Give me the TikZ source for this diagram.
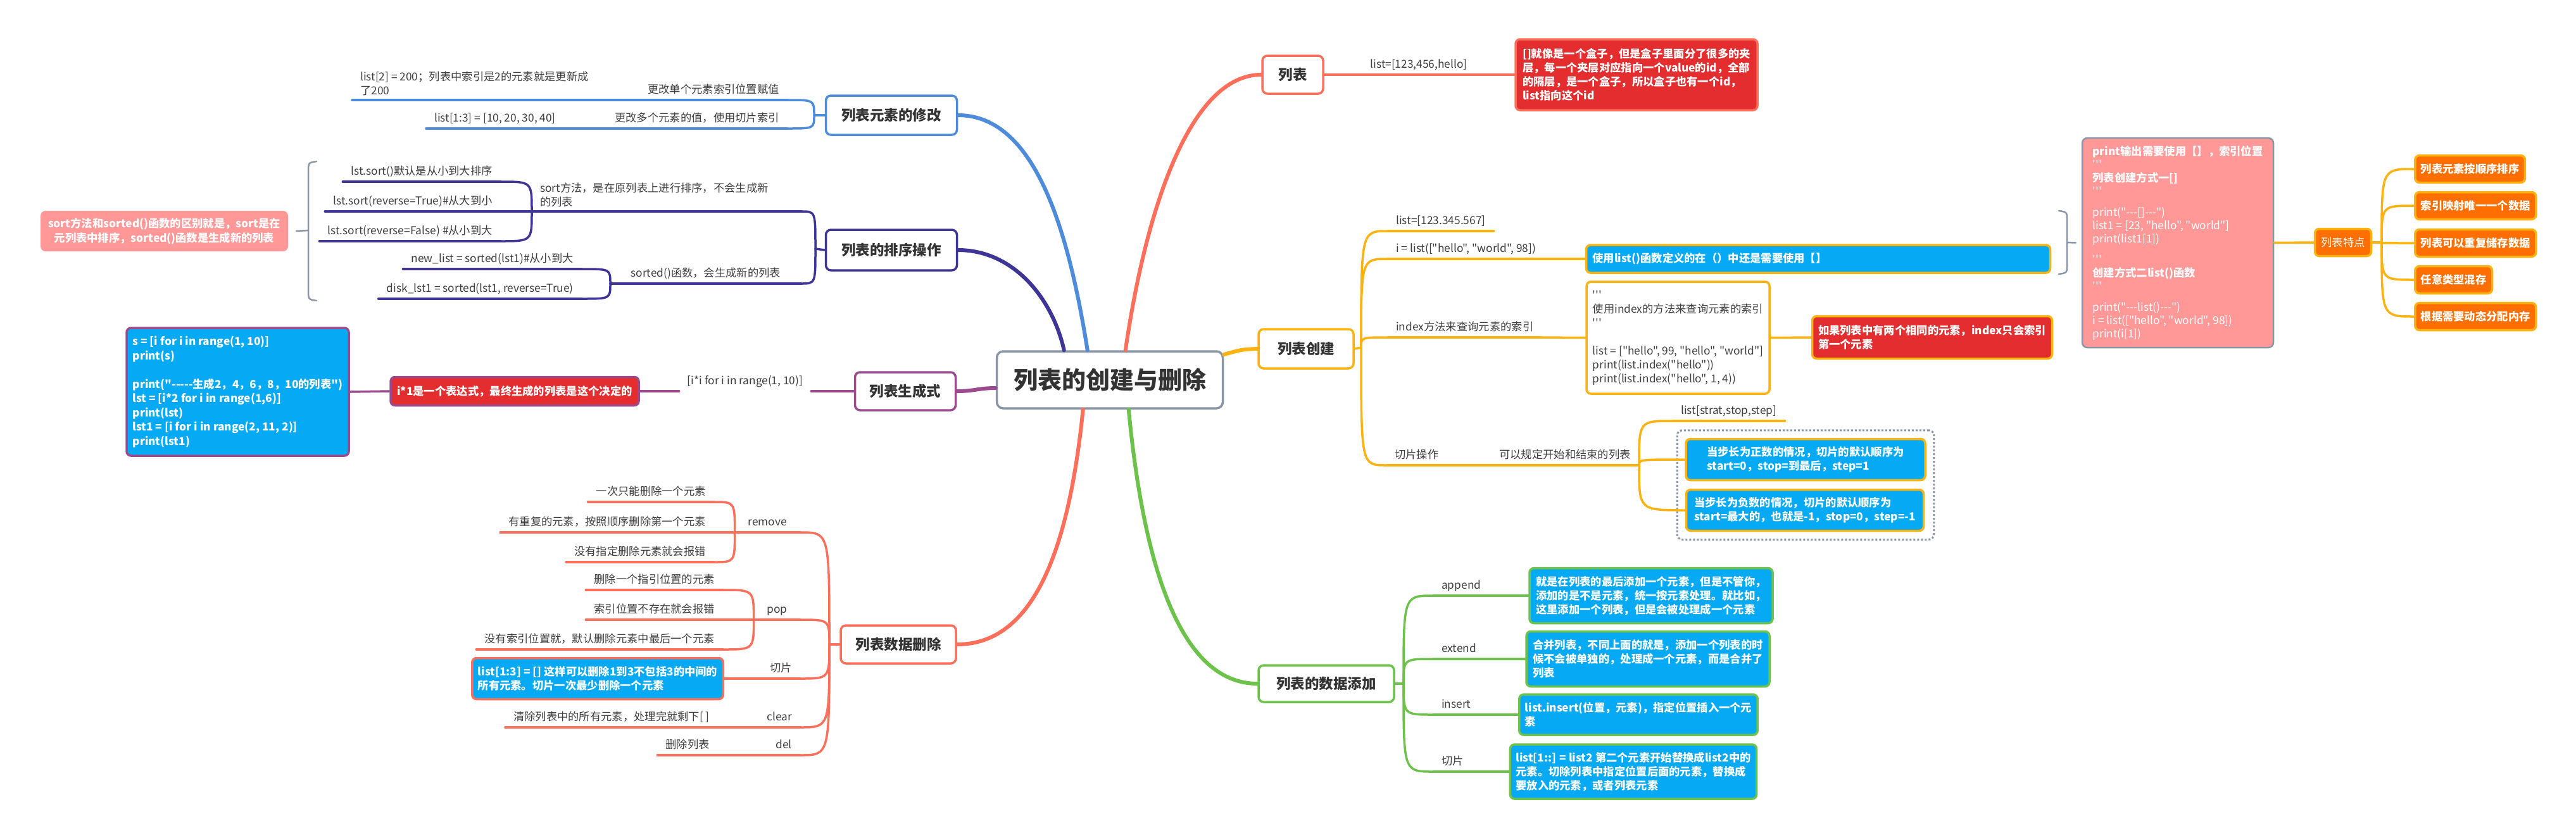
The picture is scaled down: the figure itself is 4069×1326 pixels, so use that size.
\documentclass[tikz,border=0pt]{standalone}
\usepackage{fontspec}
\setmainfont{Noto Sans CJK SC}[Ligatures=TeXOff]
\usetikzlibrary{fit}
\definecolor{cB}{HTML}{4E8CDB}
\definecolor{cI}{HTML}{3F3597}
\definecolor{cP}{HTML}{9B4A8D}
\definecolor{cR}{HTML}{FD6F5B}
\definecolor{cY}{HTML}{FDB30F}
\definecolor{cG}{HTML}{6CC24A}
\definecolor{cgray}{HTML}{8A95A8}
\definecolor{fB}{HTML}{06A9F4}
\definecolor{fR}{HTML}{E32D2E}
\definecolor{fP}{HTML}{FF9897}
\definecolor{fO}{HTML}{FF6E00}
\definecolor{txt}{HTML}{3D3D3D}
\definecolor{dtxt}{HTML}{333333}

\begin{document}
\begin{tikzpicture}[x=1pt, y=-1pt,
  every node/.style={font=\fontsize{17.3}{22}\selectfont, text=txt},
  root/.style={draw=cgray, line width=3.5pt, rounded corners=10pt, fill=white,
    font=\fontsize{38}{44}\selectfont\bfseries, text=dtxt, minimum width=357pt, minimum height=90pt},
  topic/.style={draw=#1, line width=3.5pt, rounded corners=8pt, fill=white,
    font=\fontsize{22.5}{26}\selectfont\bfseries, text=dtxt},
  lbl/.style={inner xsep=13pt, inner ysep=7pt, text height=13pt, text depth=3pt},
  mlbl/.style={inner xsep=13pt, inner ysep=7pt, align=left},
  note/.style={draw=#1, line width=3.5pt, rounded corners=7pt, text=white, align=left,
    font=\fontsize{17.3}{22}\selectfont\bfseries, inner xsep=9pt, inner ysep=6pt},
  obox/.style={note=cY, fill=fO, minimum height=43pt, anchor=west},
  lnk/.style={draw=#1, line width=3.5pt, line cap=round},
  trunk/.style={draw=#1, line width=6pt, line cap=round},
  sumln/.style={draw=cgray, line width=2.5pt, line cap=round},
  dotbox/.style={draw=cgray, line width=3pt, dash pattern=on 3pt off 3pt, rounded corners=8pt, inner sep=12pt}
]
\fill[white] (0,0) rectangle (4069,1326);
\useasboundingbox (0,0) rectangle (4069,1326);

% centre
\node[root] (root) at (1753,600) {列表的创建与删除};

% ---- left: 修改
\node[topic=cB, minimum width=207pt, minimum height=62pt] (xg) at (1408,182) {列表元素的修改};
\coordinate (xgj) at (1286,182);
\node[lbl, anchor=south east] (xg1) at (1244,158) {更改单个元素索引位置赋值};
\node[mlbl, anchor=south west] (xg1a) at (556,158) {list[2] = 200；列表中索引是2的元素就是更新成\\了200};
\node[lbl, anchor=south east] (xg2) at (1244,203) {更改多个元素的值，使用切片索引};
\node[lbl, anchor=south west] (xg2a) at (673,203) {list[1:3] = [10, 20, 30, 40]};

% ---- left: 排序
\node[topic=cI, minimum width=207pt, minimum height=64pt] (px) at (1408,395) {列表的排序操作};
\coordinate (pxj) at (1288,393);
\node[mlbl, anchor=south west, text width=400pt] (px1) at (840,334) {sort方法，是在原列表上进行排序，不会生成新\\的列表};
\node[lbl, anchor=south east] (px1a) at (791,287) {lst.sort()默认是从小到大排序};
\node[lbl, anchor=south east] (px1b) at (791,334) {lst.sort(reverse=True)\#从大到小};
\node[lbl, anchor=south east] (px1c) at (791,381) {lst.sort(reverse=False) \#从小到大};
\node[lbl, anchor=south west, minimum width=301pt] (px2) at (964,448) {sorted()函数，会生成新的列表};
\node[lbl, anchor=south east] (px2a) at (919,425) {new\_list = sorted(lst1)\#从小到大};
\node[lbl, anchor=south east] (px2b) at (919,472) {disk\_lst1 = sorted(lst1, reverse=True)};
\node[fill=fP, rounded corners=8pt, text=white, align=center, font=\fontsize{17.3}{23}\selectfont\bfseries,
  minimum width=391pt, minimum height=64pt] (pxn) at (259.5,365) {sort方法和sorted()函数的区别就是，sort是在\\元列表中排序，sorted()函数是生成新的列表};
\coordinate (pxs) at (487,364);

% ---- left: 生成式
\node[topic=cP, minimum width=159pt, minimum height=60pt] (sc) at (1430,618) {列表生成式};
\node[lbl, anchor=south] (sc1) at (1177,618) {[i*i for i in range(1, 10)]};
\node[note=cP, fill=fR, minimum width=392pt, minimum height=45pt] (sc2) at (813,618) {i*1是一个表达式，最终生成的列表是这个决定的};
\node[note=cP, fill=fB, minimum width=351pt, minimum height=202pt, font=\fontsize{17.3}{22.5}\selectfont\bfseries] (sc3) at (375.5,619)
  {s = [i for i in range(1, 10)]\\print(s)\\[22.5pt]print("-----生成2，4，6，8，10的列表")\\lst = [i*2 for i in range(1,6)]\\print(lst)\\lst1 = [i for i in range(2, 11, 2)]\\print(lst1)};

% ---- left: 删除
\node[topic=cR, minimum width=182pt, minimum height=60pt] (sd) at (1419,1018) {列表数据删除};
\coordinate (sdj) at (1310,1018);
\node[lbl, anchor=south east, minimum width=103pt] (sd1) at (1264,841) {remove};
\node[lbl, anchor=south east, minimum width=73pt] (sd2) at (1264,979) {pop};
\node[lbl, anchor=south east] (sd3) at (1264,1072) {切片};
\node[lbl, anchor=south east] (sd4) at (1264,1149) {clear};
\node[lbl, anchor=south east] (sd5) at (1264,1193) {del};
\node[lbl, anchor=south east] (sd1a) at (1128,793) {一次只能删除一个元素};
\node[lbl, anchor=south east] (sd1b) at (1128,841) {有重复的元素，按照顺序删除第一个元素};
\node[lbl, anchor=south east] (sd1c) at (1128,888) {没有指定删除元素就会报错};
\node[lbl, anchor=south east] (sd2a) at (1142,932) {删除一个指引位置的元素};
\node[lbl, anchor=south east] (sd2b) at (1142,979) {索引位置不存在就会报错};
\node[lbl, anchor=south east] (sd2c) at (1142,1026) {没有索引位置就，默认删除元素中最后一个元素};
\node[note=cR, fill=fB, minimum width=390pt, minimum height=65pt] (sd3a) at (944,1072) {list[1:3] = [] 这样可以删除1到3不包括3的中间的\\所有元素。切片一次最少删除一个元素};
\node[lbl, anchor=south east] (sd4a) at (1134,1149) {清除列表中的所有元素，处理完就剩下[ ]};
\node[lbl, anchor=south east] (sd5a) at (1134,1193) {删除列表};

% ---- right: 列表
\node[topic=cR, minimum width=96pt, minimum height=60pt] (lb) at (2042,118) {列表};
\node[lbl, anchor=south] (lb1) at (2241,118) {list=[123,456,hello]};
\node[note=cR, fill=fR, minimum width=382pt, minimum height=112pt] (lb2) at (2585,118)
  {[]就像是一个盒子，但是盒子里面分了很多的夹\\层，每一个夹层对应指向一个value的id，全部\\的隔层，是一个盒子，所以盒子也有一个id，\\list指向这个id};

% ---- right: 创建
\node[topic=cY, minimum width=150pt, minimum height=62pt] (cj) at (2063,551) {列表创建};
\coordinate (cjj) at (2150,549);
\node[lbl, anchor=south west] (cj1) at (2192,365) {list=[123.345.567]};
\node[lbl, anchor=south west] (cj2) at (2192,409) {i = list(["hello", "world", 98])};
\node[note=cY, fill=fB, minimum width=733pt, minimum height=44pt, text width=713pt] (cj2a) at (2872,409) {使用list()函数定义的在（）中还是需要使用【】};
\node[lbl, anchor=south west] (cj3) at (2192,533) {index方法来查询元素的索引};
\node[draw=cY, line width=3.5pt, rounded corners=7pt, fill=white, align=left, inner xsep=7pt,
  minimum width=289pt, minimum height=177pt] (cj3a) at (2650.5,533.5)
  {'''\\使用index的方法来查询元素的索引\\'''\\[22pt]list = ["hello", 99, "hello", "world"]\\print(list.index("hello"))\\print(list.index("hello", 1, 4))};
\node[note=cY, fill=fR, minimum width=379pt, minimum height=67pt] (cj3b) at (3052,533) {如果列表中有两个相同的元素，index只会索引\\第一个元素};
\node[lbl, anchor=south west] (cj4) at (2190,735) {切片操作};
\node[lbl, anchor=south west] (cj4a) at (2355,735) {可以规定开始和结束的列表};
\node[lbl, anchor=south west] (cj4b) at (2642,665) {list[strat,stop,step]};
\node[note=cY, fill=fB, minimum width=378pt, minimum height=65pt] (cj4c) at (2852,726) {当步长为正数的情况，切片的默认顺序为\\start=0，stop=到最后，step=1};
\node[note=cY, fill=fB, minimum width=375pt, minimum height=65pt] (cj4d) at (2851,806) {当步长为负数的情况，切片的默认顺序为\\start=最大的，也就是-1，stop=0，step=-1};
\node[dotbox, fit=(cj4c)(cj4d)] (cj4e) {};
\coordinate (cjs) at (3265,383);

% summary + 特点
\node[fill=fP, draw=cgray, line width=2.5pt, rounded corners=8pt, text=white, align=left,
  font=\fontsize{17.3}{21}\selectfont, minimum width=302pt, minimum height=331pt] (pk) at (3440,383.5)
  {{\bfseries print输出需要使用【】，索引位置}\\'''\\{\bfseries 列表创建方式一[]}\\'''\\[12pt]print("---[]---")\\list1 = [23, "hello", "world"]\\print(list1[1])\\[12pt]'''\\{\bfseries 创建方式二list()函数}\\'''\\[12pt]print("---list()---")\\i = list(["hello", "world", 98])\\print(i[1])};
\node[note=cY, fill=fO, font=\fontsize{17.3}{22}\selectfont, minimum width=89pt, minimum height=43pt] (td) at (3701,383) {列表特点};
\coordinate (tdj) at (3762,383);
\node[obox] (td1) at (3813,267) {列表元素按顺序排序};
\node[obox] (td2) at (3813,325) {索引映射唯一一个数据};
\node[obox] (td3) at (3813,384) {列表可以重复储存数据};
\node[obox] (td4) at (3813,442) {任意类型混存};
\node[obox] (td5) at (3813,500) {根据需要动态分配内存};

% ---- right: 添加
\node[topic=cG, minimum width=214pt, minimum height=58pt] (tj) at (2095,1080) {列表的数据添加};
\coordinate (tjj) at (2217,1080);
\node[lbl, anchor=south west] (tj1) at (2264,941) {append};
\node[lbl, anchor=south west] (tj2) at (2264,1041) {extend};
\node[lbl, anchor=south west] (tj3) at (2264,1129) {insert};
\node[lbl, anchor=south west] (tj4) at (2264,1219) {切片};
\node[note=cG, fill=fB, minimum width=384pt, minimum height=87pt] (tj1a) at (2608,941) {就是在列表的最后添加一个元素，但是不管你，\\添加的是不是元素，统一按元素处理。就比如，\\这里添加一个列表，但是会被处理成一个元素};
\node[note=cG, fill=fB, minimum width=384pt, minimum height=87pt] (tj2a) at (2603,1041) {合并列表，不同上面的就是，添加一个列表的时\\候不会被单独的，处理成一个元素，而是合并了\\列表};
\node[note=cG, fill=fB, minimum width=375pt, minimum height=64pt] (tj3a) at (2588,1129) {list.insert(位置，元素)，指定位置插入一个元\\素};
\node[note=cG, fill=fB, minimum width=383pt, minimum height=86pt] (tj4a) at (2580,1219) {list[1::] = list2 第二个元素开始替换成list2中的\\元素。切除列表中指定位置后面的元素，替换成\\要放入的元素，或者列表元素};

% main branches
\draw[trunk=cB] ([xshift=145pt]root.north west) .. controls (1690,380) and (1640,182) .. (xg.east);
\draw[trunk=cI] ([xshift=108pt]root.north west) .. controls (1662,470) and (1600,395) .. (px.east);
\draw[trunk=cP] ([yshift=-13pt]root.west) .. controls (1545,613) and (1540,618) .. (sc.east);
\draw[trunk=cR] ([xshift=138pt]root.south west) .. controls (1690,850) and (1640,1018) .. (sd.east);
\draw[trunk=cR] ([xshift=205pt]root.north west) .. controls (1810,330) and (1880,118) .. (lb.west);
\draw[trunk=cY] ([yshift=40pt]root.east) .. controls (1962,552) .. (cj.west);
\draw[trunk=cG] ([xshift=210pt]root.south west) .. controls (1805,880) and (1860,1080) .. (tj.west);

% 修改
\draw[lnk=cB] (xg.west) -- (xgj);
\foreach \n in {xg1,xg2} \draw[lnk=cB] (xgj) .. controls (\n.south east -| xgj) .. (\n.south east);
\draw[lnk=cB] (xg1.south west) -- (xg1a.south east);
\draw[lnk=cB] (xg2.south west) -- (xg2a.south east);
\foreach \n in {xg1,xg1a,xg2,xg2a} \draw[lnk=cB] (\n.south west) -- (\n.south east);

% 排序
\draw[lnk=cI] (px.west) -- (pxj);
\foreach \n in {px1,px2} \draw[lnk=cI] (pxj) .. controls (\n.south east -| pxj) .. (\n.south east);
\foreach \n in {px1a,px1b,px1c} \draw[lnk=cI] (px1.south west) .. controls (\n.south east -| px1.south west) .. (\n.south east);
\foreach \n in {px2a,px2b} \draw[lnk=cI] (px2.south west) .. controls (\n.south east -| px2.south west) .. (\n.south east);
\foreach \n in {px1,px1a,px1b,px1c,px2,px2a,px2b} \draw[lnk=cI] (\n.south west) -- (\n.south east);
\draw[sumln] (500,255) .. controls (487,257) .. (487,272) -- (487,458) .. controls (487,473) .. (500,475);
\draw[sumln] (pxs) -- ([xshift=13pt]pxn.east);

% 生成式
\draw[lnk=cP] (sc.west) -- (sc1.south east);
\draw[lnk=cP] (sc1.south west) -- (sc2.east);
\draw[lnk=cP] (sc2.west) -- (sc3.east);

% 删除
\draw[lnk=cR] (sd.west) -- (sdj);
\foreach \n in {sd1,sd2,sd3,sd4,sd5} \draw[lnk=cR] (sdj) .. controls (\n.south east -| sdj) .. (\n.south east);
\foreach \n in {sd1a,sd1b,sd1c} \draw[lnk=cR] (sd1.south west) .. controls (\n.south east -| sd1.south west) .. (\n.south east);
\foreach \n in {sd2a,sd2b,sd2c} \draw[lnk=cR] (sd2.south west) .. controls (\n.south east -| sd2.south west) .. (\n.south east);
\draw[lnk=cR] (sd3.south west) -- (sd3a.east);
\draw[lnk=cR] (sd4.south west) -- (sd4a.south east);
\draw[lnk=cR] (sd5.south west) -- (sd5a.south east);
\foreach \n in {sd1,sd2,sd3,sd4,sd5,sd1a,sd1b,sd1c,sd2a,sd2b,sd2c,sd4a,sd5a} \draw[lnk=cR] (\n.south west) -- (\n.south east);

% 列表
\draw[lnk=cR] (lb.east) -- (lb1.south west) -- (lb1.south east) -- (lb2.west);

% 创建
\draw[lnk=cY] (cj.east) -- (cjj);
\foreach \n in {cj1,cj2,cj3,cj4} \draw[lnk=cY] (cjj) .. controls (\n.south west -| cjj) .. (\n.south west);
\draw[lnk=cY] (cj2.south east) -- (cj2a.west);
\draw[lnk=cY] (cj3.south east) -- (cj3a.west);
\draw[lnk=cY] (cj3a.east) -- (cj3b.west);
\draw[lnk=cY] (cj4.south east) -- (cj4a.south west);
\draw[lnk=cY] (cj4a.south east) .. controls (cj4b.south west -| cj4a.south east) .. (cj4b.south west);
\foreach \n in {cj4c,cj4d} \draw[lnk=cY] (cj4a.south east) .. controls (\n.west -| cj4a.south east) .. (\n.west);
\foreach \n in {cj1,cj2,cj3,cj4,cj4a,cj4b} \draw[lnk=cY] (\n.south west) -- (\n.south east);
\draw[sumln] (3252,333) .. controls (3265,335) .. (3265,348) -- (3265,418) .. controls (3265,431) .. (3252,433);
\draw[sumln] (cjs) -- ([xshift=-9pt]pk.west);
\draw[lnk=cY] (pk.east) -- (td.west);
\draw[lnk=cY] (td.east) -- (tdj);
\foreach \n in {td1,td2,td3,td4,td5} \draw[lnk=cY] (tdj) .. controls (\n.west -| tdj) .. (\n.west);

% 添加
\draw[lnk=cG] (tj.east) -- (tjj);
\foreach \n in {tj1,tj2,tj3,tj4} \draw[lnk=cG] (tjj) .. controls (\n.south west -| tjj) .. (\n.south west);
\foreach \n/\m in {tj1/tj1a,tj2/tj2a,tj3/tj3a,tj4/tj4a} \draw[lnk=cG] (\n.south west) -- (\n.south east) -- (\m.west);
\end{tikzpicture}
\end{document}
